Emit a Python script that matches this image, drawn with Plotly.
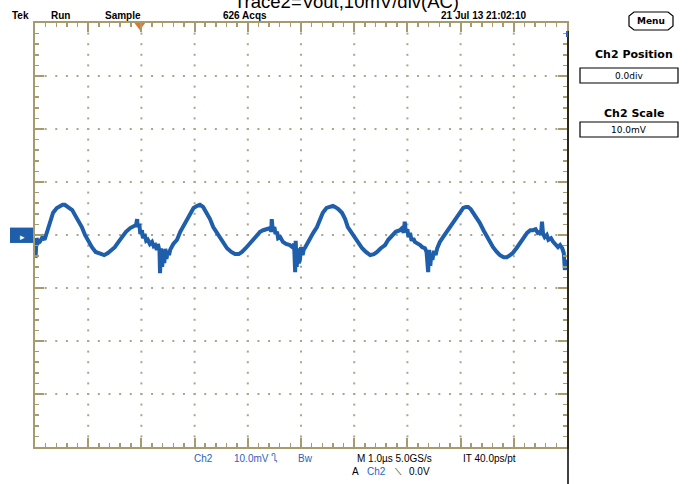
import plotly.graph_objects as go

# ---- waveform (time in µs, voltage in mV, 1 µs/div, 10 mV/div) ----
t_us = [-5.00, -4.99, -4.97, -4.94, -4.91, -4.86, -4.82, -4.77, -4.72, -4.66, -4.59, -4.53, -4.48, -4.44,
        -4.37, -4.30, -4.25, -4.19, -4.12, -4.06, -3.99, -3.93, -3.86, -3.78, -3.70, -3.63, -3.56, -3.50,
        -3.43, -3.36, -3.29, -3.21, -3.15, -3.10, -3.08, -3.07, -3.04, -3.02, -2.99, -2.97, -2.94, -2.91,
        -2.88, -2.84, -2.80, -2.77, -2.74, -2.71, -2.69, -2.66, -2.65, -2.63, -2.61, -2.59, -2.57, -2.55,
        -2.53, -2.50, -2.48, -2.46, -2.40, -2.33, -2.27, -2.22, -2.15, -2.09, -2.02, -1.95, -1.90, -1.84,
        -1.77, -1.71, -1.65, -1.58, -1.52, -1.45, -1.39, -1.31, -1.24, -1.17, -1.11, -1.04, -0.96, -0.90,
        -0.83, -0.77, -0.71, -0.64, -0.58, -0.56, -0.55, -0.53, -0.50, -0.48, -0.45, -0.43, -0.39, -0.34,
        -0.28, -0.21, -0.16, -0.13, -0.11, -0.10, -0.08, -0.06, -0.04, -0.02, 0.00, 0.03, 0.05, 0.08,
        0.12, 0.17, 0.23, 0.30, 0.36, 0.41, 0.48, 0.55, 0.60, 0.64, 0.70, 0.77, 0.83, 0.88, 0.95, 1.02,
        1.08, 1.15, 1.22, 1.30, 1.37, 1.43, 1.50, 1.58, 1.64, 1.71, 1.78, 1.86, 1.90, 1.93, 1.95, 1.97,
        2.00, 2.02, 2.05, 2.08, 2.11, 2.14, 2.19, 2.24, 2.28, 2.33, 2.36, 2.39, 2.41, 2.43, 2.45, 2.47,
        2.50, 2.53, 2.56, 2.61, 2.67, 2.74, 2.80, 2.87, 2.93, 2.99, 3.05, 3.10, 3.14, 3.19, 3.23, 3.30,
        3.36, 3.43, 3.50, 3.56, 3.61, 3.68, 3.74, 3.81, 3.87, 3.93, 3.98, 4.05, 4.12, 4.19, 4.25, 4.31,
        4.36, 4.41, 4.45, 4.49, 4.51, 4.53, 4.55, 4.58, 4.62, 4.65, 4.70, 4.74, 4.78, 4.83, 4.87, 4.91,
        4.94, 4.96, 4.98, 5.00]
v_mV = [-1.3, -4.3, -0.6, -1.5, -1.3, -0.4, -0.9, 0.9, 2.3, 4.2, 5.1, 5.5, 5.7, 5.7,
        5.3, 4.7, 3.8, 2.8, 1.5, 0.0, -1.3, -2.3, -3.2, -3.6, -3.8, -3.4, -2.8, -2.3,
        -1.3, -0.4, 0.6, 1.3, 1.7, 1.9, 3.0, 1.5, 2.1, 0.2, 0.9, -0.6, 0.2, -1.1,
        -0.9, -1.7, -1.3, -2.1, -1.9, -2.8, -1.7, -3.0, -7.2, -2.5, -6.0, -3.4, -5.3, -2.6,
        -4.5, -3.0, -3.8, -2.8, -1.7, -0.9, 0.6, 1.5, 3.0, 4.2, 5.1, 5.5, 5.7, 5.3,
        4.2, 3.0, 1.5, 0.4, -0.6, -1.7, -2.5, -3.2, -3.6, -3.6, -3.2, -2.5, -1.5, -0.9,
        0.0, 0.6, 0.9, 1.1, 1.3, 0.6, 3.0, 0.9, 1.5, 0.2, 0.6, -0.6, -0.4, -1.3,
        -1.7, -1.9, -2.3, -1.7, -7.0, -1.1, -6.0, -2.5, -5.3, -4.7, -2.3, -3.8, -2.8, -2.3,
        -1.5, -0.6, 0.4, 1.5, 3.0, 4.2, 5.1, 5.3, 5.5, 5.3, 4.9, 4.2, 3.0, 1.5, 0.4, -0.6,
        -1.5, -2.5, -3.2, -3.8, -3.6, -3.2, -2.5, -1.9, -0.9, 0.0, 0.6, 0.9, 1.3, 0.4, 2.5, 0.6,
        1.1, -0.4, 0.4, -1.1, -0.6, -1.3, -1.5, -1.9, -2.3, -2.5, -3.2, -7.0, -2.8, -5.8, -3.6, -4.7,
        -3.0, -3.8, -2.5, -1.3, -0.4, 0.6, 1.5, 2.5, 3.4, 4.3, 5.1, 5.3, 5.3, 4.9, 4.3, 3.0,
        2.3, 0.9, -0.4, -1.3, -2.3, -3.2, -3.8, -4.2, -4.2, -3.8, -3.4, -2.5, -1.5, -0.4, 0.4, 0.9,
        0.9, 1.1, 0.4, 0.6, 0.0, 2.5, 0.2, -0.4, 0.0, -0.9, -0.6, -1.3, -1.7, -2.3, -1.9, -2.5,
        -3.4, -6.6, -4.7, -6.6]

trigger_pos_us = -3.03
x_divs = 10
y_divs = 8
us_per_div = 1.0
mV_per_div = 10.0

title_text = "Trace2=Vout,10mV/div(AC)"
header_labels = ["Tek", "Run", "Sample", "626 Acqs", "21 Jul 13 21:02:10"]

# ---- layout geometry (pixels) ----
W, H = 692, 484
L, R, T, B = 35, 567, 23, 447

def P(px, py):
    return (px - L) / (R - L), (B - py) / (B - T)

GRAT = "#a69a6e"
DOT = "#a8a68e"
BLUE = "#1e5eaa"
UIBLUE = "#2a62c0"
FONT = "Liberation Sans Narrow, Arial Narrow, Liberation Sans, Arial"
PANEL_FONT = "DejaVu Sans, Verdana, sans-serif"

fig = go.Figure()

# graticule dots
xmin, xmax = -x_divs / 2 * us_per_div, x_divs / 2 * us_per_div
ymin, ymax = -y_divs / 2 * mV_per_div, y_divs / 2 * mV_per_div
gx, gy = [], []
for i in range(1, x_divs):
    xv = xmin + i * us_per_div
    for k in range(1, y_divs * 5):
        gx.append(xv)
        gy.append(ymin + k * mV_per_div / 5)
for j in range(1, y_divs):
    yv = ymin + j * mV_per_div
    for k in range(1, x_divs * 5):
        gx.append(xmin + k * us_per_div / 5)
        gy.append(yv)
fig.add_trace(go.Scatter(x=gx, y=gy, mode="markers",
                         marker=dict(symbol="square", size=2, color=DOT, line=dict(width=0)),
                         hoverinfo="skip", showlegend=False))

# waveform
fig.add_trace(go.Scatter(x=t_us, y=v_mV, mode="lines",
                         line=dict(color=BLUE, width=4), showlegend=False))

# trigger position marker
fig.add_trace(go.Scatter(x=[trigger_pos_us], y=[ymax - 0.4], mode="markers",
                         marker=dict(symbol="triangle-down", size=10, color="#f0701e"),
                         cliponaxis=False, showlegend=False, hoverinfo="skip"))

axis_common = dict(showline=True, linecolor=GRAT, linewidth=2, mirror="allticks",
                   ticks="inside", ticklen=9, tickwidth=2, tickcolor=GRAT,
                   showticklabels=False, showgrid=False, zeroline=False, fixedrange=True)
fig.update_xaxes(range=[xmin, xmax], tick0=xmin, dtick=us_per_div,
                 minor=dict(ticks="inside", dtick=us_per_div / 5, ticklen=4, tickwidth=1.5,
                            tickcolor=GRAT, showgrid=False), **axis_common)
fig.update_yaxes(range=[ymin, ymax], tick0=ymin, dtick=mV_per_div,
                 minor=dict(ticks="inside", dtick=mV_per_div / 5, ticklen=4, tickwidth=1.5,
                            tickcolor=GRAT, showgrid=False), **axis_common)

shapes = []
# right black separator line
x0, y0 = P(568, 31)
x1, y1 = P(568, 484)
shapes.append(dict(type="line", xref="paper", yref="paper", x0=x0, y0=y0, x1=x1, y1=y1,
                   line=dict(color="black", width=1.5)))
x0, y0 = P(567, 31)
x1, y1 = P(567, 37)
shapes.append(dict(type="line", xref="paper", yref="paper", x0=x0, y0=y0, x1=x1, y1=y1,
                   line=dict(color=UIBLUE, width=2)))
# channel ground marker
x0, _ = P(10, 0)
x1, _ = P(33, 0)
shapes.append(dict(type="rect", xref="paper", yref="y", x0=x0, x1=x1, y0=-1.5, y1=1.4,
                   fillcolor=BLUE, line=dict(width=0)))
# right panel boxes
for (bx0, by0, bx1, by1) in [(580, 68, 678, 83), (580, 122, 678, 137)]:
    a, b = P(bx0, by1)
    c, d = P(bx1, by0)
    shapes.append(dict(type="rect", xref="paper", yref="paper", x0=a, y0=b, x1=c, y1=d,
                       line=dict(color="black", width=1.2), fillcolor="white"))
# menu button (beveled)
pts = [(634, 12), (668, 12), (673, 16), (673, 26), (668, 30), (634, 30), (629, 26), (629, 16)]
path = "M " + " L ".join("{:.5f},{:.5f}".format(*P(px, py)) for px, py in pts) + " Z"
shapes.append(dict(type="path", xref="paper", yref="paper", path=path,
                   line=dict(color="black", width=1.2)))
fig.update_layout(shapes=shapes)

ann = []
def text(px, py, s, size=10, color="black", bold=False, family=FONT, anchor="center"):
    x, y = P(px, py)
    ann.append(dict(x=x, y=y, xref="paper", yref="paper", text=("<b>%s</b>" % s) if bold else s,
                    showarrow=False, xanchor=anchor, yanchor="middle",
                    font=dict(size=size, color=color, family=family)))

text(346, 2, title_text, size=18.5, family="Liberation Sans, Arial")
for px, s in zip([20, 60, 123, 245, 483], header_labels):
    text(px, 15, s, size=10, bold=True)
text(651, 21, "Menu", size=9, bold=True, family=PANEL_FONT)
text(634, 55, "Ch2 Position", size=11, bold=True, family=PANEL_FONT)
text(629, 76, "0.0div", size=9, family=PANEL_FONT)
text(634, 113, "Ch2 Scale", size=11, bold=True, family=PANEL_FONT)
text(629, 130, "10.0mV", size=9, family=PANEL_FONT)
text(22, 237, "▸", size=9, color="white")
# bottom status
text(203, 458, "Ch2", size=10, color=UIBLUE)
text(251, 458, "10.0mV", size=10, color=UIBLUE)
text(274, 458, "Ⴂ", size=9, color=UIBLUE, family="DejaVu Sans")
text(305, 458, "Bw", size=10, color=UIBLUE)
text(394, 458, "M 1.0µs 5.0GS/s", size=10)
text(489, 458, "IT 40.0ps/pt", size=10)
text(355, 472, "A", size=10)
text(376, 472, "Ch2", size=10, color=UIBLUE)
text(398, 472, "⟍", size=9, family="DejaVu Sans")
text(419, 472, "0.0V", size=10)
fig.update_layout(annotations=ann)

fig.update_layout(width=W, height=H, margin=dict(l=L, r=W - R, t=T, b=H - B, autoexpand=False),
                  paper_bgcolor="white", plot_bgcolor="white", showlegend=False)

fig.write_html("out.html", config={"displayModeBar": False, "staticPlot": True},
               post_script="document.body.style.margin='0';document.body.style.overflow='hidden';")
